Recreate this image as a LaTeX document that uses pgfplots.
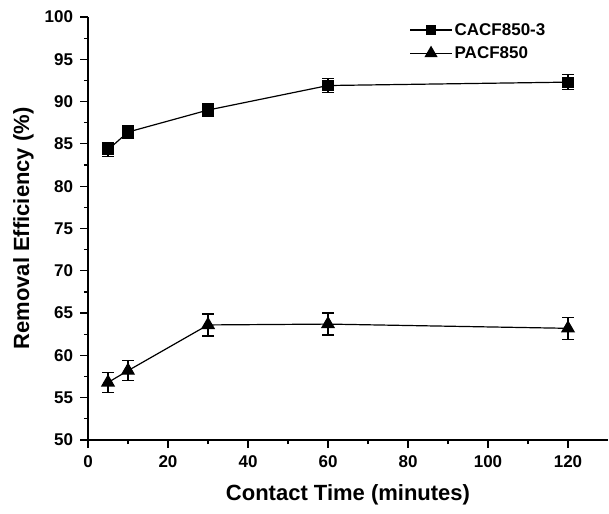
\documentclass[border=0pt]{standalone}
\usepackage{fontspec}
\setmainfont{Liberation Sans}
\usepackage{pgfplots}
\pgfplotsset{compat=1.18}
\usetikzlibrary{calc}

\begin{document}
\begin{tikzpicture}
\begin{axis}[
    name=ax,
    scale only axis,
    width=520pt, height=423pt,
    xmin=0, xmax=130, ymin=50, ymax=100,
    xtick={0,20,...,120}, ytick={50,55,...,100},
    minor x tick num=1, minor y tick num=1,
    axis lines*=left,
    axis line style={line width=1.4pt},
    tick align=outside,
    major tick length=7.5pt, minor tick length=4pt,
    tick style={line width=1.2pt, black},
    /pgf/number format/assume math mode=true,
    tick label style={font=\fontsize{17}{19}\selectfont\bfseries},
    yticklabel style={xshift=-4pt},
    xticklabel style={yshift=-5pt},
    label style={font=\fontsize{22}{25}\selectfont\bfseries},
    xlabel={Contact Time (minutes)},
    ylabel={Removal Efficiency (\%)},
    xlabel style={yshift=-10pt},
    ylabel style={yshift=4pt},
    legend style={draw=none, fill=none, font=\fontsize{17}{19}\selectfont\bfseries,
        at={(0.612,0.995)}, anchor=north west, row sep=6pt},
    legend cell align=left,
    legend image code/.code={
        \draw[mark repeat=2, mark phase=2, #1]
        plot coordinates {(0pt,0pt) (21pt,0pt) (42pt,0pt)};
    },
    clip=false,
]
\addplot[black, line width=1.2pt, mark=square*, mark size=5pt,
    legend image post style={mark size=4pt},
    error bars/.cd, y dir=both, y explicit,
    error bar style={line width=1.2pt},
    error mark options={rotate=90, mark size=6pt, line width=1.2pt}]
    coordinates {
    (5,84.3) +- (0,0.8)
    (10,86.4) +- (0,0.8)
    (30,89.0) +- (0,0.8)
    (60,91.9) +- (0,0.8)
    (120,92.3) +- (0,0.9)
};
\addlegendentry{CACF850-3}
\addplot[black, line width=1.2pt, mark=triangle*, mark size=7pt,
    legend image post style={mark size=6.5pt},
    error bars/.cd, y dir=both, y explicit,
    error bar style={line width=1.2pt},
    error mark options={rotate=90, mark size=6pt, line width=1.2pt}]
    coordinates {
    (5,56.8) +- (0,1.2)
    (10,58.2) +- (0,1.2)
    (30,63.6) +- (0,1.3)
    (60,63.7) +- (0,1.3)
    (120,63.2) +- (0,1.3)
};
\addlegendentry{PACF850}
\end{axis}
\pgfresetboundingbox
\path ($(ax.south west)+(-88pt,-73pt)$) rectangle ($(ax.north east)+(1pt,17pt)$);
\end{tikzpicture}
\end{document}
